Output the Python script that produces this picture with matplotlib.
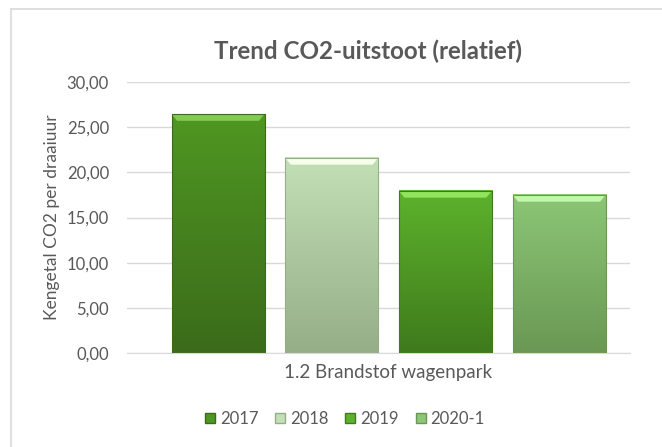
import matplotlib
matplotlib.use("Agg")
from matplotlib import pyplot as plt
from matplotlib.lines import Line2D
from matplotlib.patches import Rectangle, Polygon
import matplotlib.colors as mcolors
import numpy as np

plt.rcParams["font.family"] = ["Lato", "DejaVu Sans"]

# data
series = ["2017", "2018", "2019", "2020-1"]
values = [26.45, 21.6, 17.95, 17.5]
category = "1.2 Brandstof wagenpark"

# (top colour, bottom colour) per series
top_colors = ["#4f9722", "#c2e0b6", "#5db22c", "#8cc676"]
bottom_colors = ["#3b6b1a", "#96ae88", "#3f7a1d", "#6a9854"]

fig = plt.figure(figsize=(6.62, 4.47), dpi=100)
ax = fig.add_axes([127 / 662, 1 - 353 / 447, 503 / 662, 271 / 447])

width = 0.185
step = 0.226
offsets = (np.arange(len(series)) - 1.5) * step + 0.02

bars = ax.bar(offsets, values, width=width, color="none", zorder=2)
for bar, c_top, c_bot in zip(bars, top_colors, bottom_colors):
    x0, w, h = bar.get_x(), bar.get_width(), bar.get_height()
    cmap = mcolors.LinearSegmentedColormap.from_list("g", [c_bot, c_top])
    grad = np.linspace(0, 1, 256).reshape(-1, 1)
    ax.imshow(grad, cmap=cmap, origin="lower", aspect="auto",
              extent=(x0, x0 + w, 0, h), zorder=2)
    # bevel at the top of each bar
    bevel = tuple(min(1, v + 0.2) for v in mcolors.to_rgb(c_top))
    ax.add_patch(Polygon([(x0, h), (x0 + w, h), (x0 + w * 0.94, h - 0.75),
                          (x0 + w * 0.06, h - 0.75)],
                         closed=True, color=bevel, lw=0, zorder=3))
    ax.add_patch(Rectangle((x0, 0), w, h, fill=False,
                           ec=mcolors.to_rgb(c_bot), lw=0.8, zorder=4))

ax.set_xlim(-0.5, 0.5)
ax.set_ylim(0, 30)
ax.set_yticks(np.arange(0, 31, 5))
ax.set_yticklabels([f"{v:.2f}".replace(".", ",") for v in np.arange(0, 31, 5)],
                   fontsize=12, color="#595959")
ax.tick_params(axis="y", length=0, pad=13)
ax.set_xticks([0.02])
ax.set_xticklabels([category], fontsize=13.5, color="#595959")
ax.tick_params(axis="x", length=0, pad=8)
ax.grid(axis="y", color="#d9d9d9", lw=1, zorder=0)
ax.set_axisbelow(True)
for side in ["top", "right", "left"]:
    ax.spines[side].set_visible(False)
ax.spines["bottom"].set_color("#d9d9d9")

ax.set_ylabel("Kengetal CO2 per draaiuur", fontsize=12.5, color="#595959", labelpad=5)

fig.text(368 / 662, 1 - 51 / 447, "Trend CO2-uitstoot (relatief)",
         ha="center", va="center", fontsize=17.4, fontweight="bold", color="#595959")

handles = [Rectangle((0, 0), 1, 1, fc=c, ec=b) for c, b in zip(top_colors, bottom_colors)]
fig.legend(handles, series, loc="center", bbox_to_anchor=(345 / 662, 1 - 419 / 447),
           ncol=4, frameon=False, fontsize=12, handlelength=0.6, handleheight=0.6,
           handletextpad=0.3, columnspacing=1.0, labelcolor="#595959")

# chart frame (only top and left edges visible)
fig.add_artist(Line2D([11 / 662, 1], [1 - 8.5 / 447] * 2, color="#d9d9d9", lw=1.2))
fig.add_artist(Line2D([11 / 662] * 2, [0, 1 - 8.5 / 447], color="#d9d9d9", lw=1.2))

fig.savefig("out.png", dpi=100)
